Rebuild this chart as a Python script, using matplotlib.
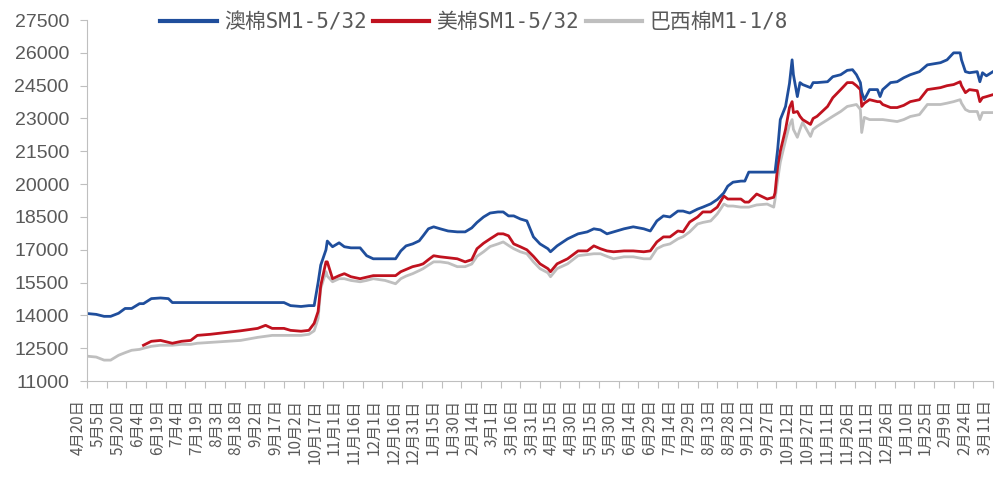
import matplotlib
matplotlib.use("Agg")
import matplotlib.pyplot as plt
import matplotlib.dates as mdates
import numpy as np
import pandas as pd

# 现货价格（元/吨）
dates = [
    "2020-04-20", "2020-04-27", "2020-05-03", "2020-05-08", "2020-05-14", "2020-05-19",
    "2020-05-24", "2020-05-30", "2020-06-02", "2020-06-08", "2020-06-15", "2020-06-21",
    "2020-06-24", "2020-07-01", "2020-07-08", "2020-07-13", "2020-07-23", "2020-08-05",
    "2020-08-15", "2020-08-28", "2020-09-03", "2020-09-08", "2020-09-17", "2020-09-22",
    "2020-09-30", "2020-10-06", "2020-10-10", "2020-10-13", "2020-10-15", "2020-10-19",
    "2020-10-20", "2020-10-24", "2020-10-29", "2020-11-02", "2020-11-07", "2020-11-14",
    "2020-11-19", "2020-11-24", "2020-12-03", "2020-12-11", "2020-12-15", "2020-12-19",
    "2020-12-24", "2020-12-29", "2021-01-01", "2021-01-05", "2021-01-09", "2021-01-14",
    "2021-01-20", "2021-01-27", "2021-02-02", "2021-02-07", "2021-02-11", "2021-02-16",
    "2021-02-21", "2021-02-27", "2021-03-03", "2021-03-07", "2021-03-11", "2021-03-16",
    "2021-03-21", "2021-03-26", "2021-03-31", "2021-04-06", "2021-04-08", "2021-04-13",
    "2021-04-21", "2021-04-29", "2021-05-06", "2021-05-11", "2021-05-16", "2021-05-21",
    "2021-05-26", "2021-06-03", "2021-06-10", "2021-06-18", "2021-06-23", "2021-06-28",
    "2021-07-03", "2021-07-08", "2021-07-14", "2021-07-18", "2021-07-23", "2021-07-29",
    "2021-08-02", "2021-08-08", "2021-08-13", "2021-08-18", "2021-08-21", "2021-08-25",
    "2021-08-31", "2021-09-03", "2021-09-06", "2021-09-12", "2021-09-20", "2021-09-25",
    "2021-09-26", "2021-09-28", "2021-09-30", "2021-10-04", "2021-10-07", "2021-10-09",
    "2021-10-10", "2021-10-13", "2021-10-15", "2021-10-17", "2021-10-23", "2021-10-25",
    "2021-10-28", "2021-11-05", "2021-11-09", "2021-11-15", "2021-11-20", "2021-11-24",
    "2021-11-27", "2021-11-30", "2021-12-01", "2021-12-03", "2021-12-07", "2021-12-13",
    "2021-12-15", "2021-12-17", "2021-12-23", "2021-12-28", "2022-01-02", "2022-01-07",
    "2022-01-14", "2022-01-20", "2022-01-30", "2022-02-04", "2022-02-09", "2022-02-14",
    "2022-02-15", "2022-02-18", "2022-02-21", "2022-02-27", "2022-03-01", "2022-03-03",
    "2022-03-06", "2022-03-11",
]

aus_sm = [
    14090, 14050, 13960, 13960, 14100, 14320, 14320, 14540, 14540, 14770, 14800, 14770,
    14590, 14590, 14590, 14590, 14590, 14590, 14590, 14590, 14590, 14590, 14590, 14450,
    14410, 14450, 14450, 15500, 16300, 17000, 17400, 17140, 17320, 17140, 17090, 17090,
    16730, 16590, 16590, 16590, 16950, 17180, 17270, 17410, 17640, 17960, 18050, 17960,
    17860, 17820, 17820, 18000, 18250, 18500, 18680, 18730, 18730, 18550, 18550, 18410,
    18320, 17590, 17270, 17050, 16910, 17180, 17500, 17730, 17820, 17960, 17910, 17730,
    17820, 17960, 18050, 17960, 17860, 18320, 18550, 18500, 18770, 18770, 18680, 18860,
    18950, 19100, 19300, 19600, 19910, 20090, 20140, 20140, 20550, 20550, 20550, 20550,
    20550, 21590, 22950, 23550, 24600, 25680, 25000, 24000, 24640, 24550, 24410, 24640,
    24640, 24680, 24910, 25000, 25200, 25230, 25000, 24640, 24200, 23860, 24320, 24320,
    24000, 24320, 24640, 24680, 24860, 25000, 25140, 25450, 25550, 25680, 26000, 26000,
    25680, 25140, 25090, 25140, 24680, 25090, 24950, 25140,
]

us_sm = [
    np.nan, np.nan, np.nan, np.nan, np.nan, np.nan, np.nan, np.nan, 12640, 12820, 12860, 12770,
    12730, 12820, 12860, 13090, 13140, 13230, 13300, 13410, 13550, 13410, 13410, 13320,
    13280, 13320, 13640, 14180, 15360, 16450, 16450, 15680, 15820, 15910, 15770, 15680,
    15750, 15820, 15820, 15820, 16000, 16100, 16230, 16300, 16360, 16550, 16730, 16680,
    16640, 16590, 16450, 16550, 17050, 17300, 17500, 17730, 17730, 17640, 17270, 17140,
    17000, 16700, 16360, 16140, 16000, 16360, 16590, 16950, 16950, 17180, 17050, 16950,
    16910, 16950, 16950, 16910, 16950, 17360, 17590, 17590, 17860, 17820, 18270, 18500,
    18730, 18730, 18950, 19460, 19320, 19320, 19320, 19180, 19180, 19550, 19320, 19400,
    19600, 20820, 21500, 22500, 23500, 23770, 23270, 23320, 23100, 22950, 22730, 23000,
    23100, 23550, 23950, 24320, 24640, 24640, 24500, 24320, 23550, 23700, 23860, 23770,
    23770, 23640, 23500, 23500, 23600, 23770, 23860, 24320, 24410, 24500, 24550, 24680,
    24500, 24180, 24320, 24270, 23770, 23950, 24000, 24090,
]

bra_m = [
    12140, 12100, 11960, 11960, 12180, 12300, 12410, 12450, 12500, 12590, 12640, 12640,
    12640, 12680, 12680, 12730, 12770, 12820, 12860, 13000, 13050, 13090, 13090, 13090,
    13090, 13140, 13300, 13860, 15230, 16000, 15800, 15540, 15680, 15680, 15600, 15540,
    15600, 15680, 15600, 15450, 15680, 15800, 15910, 16050, 16140, 16300, 16450, 16450,
    16400, 16230, 16230, 16350, 16700, 16910, 17150, 17270, 17360, 17200, 17050, 16910,
    16820, 16450, 16140, 15950, 15770, 16140, 16360, 16730, 16780, 16820, 16820, 16700,
    16590, 16680, 16680, 16590, 16590, 17050, 17200, 17270, 17500, 17600, 17820, 18180,
    18250, 18320, 18640, 19090, 19000, 19000, 18950, 18950, 18950, 19050, 19090, 18950,
    19300, 20200, 21000, 22000, 22700, 22950, 22500, 22140, 22500, 22820, 22180, 22500,
    22640, 22950, 23100, 23320, 23550, 23600, 23640, 23410, 22360, 23050, 22950, 22950,
    22950, 22950, 22900, 22860, 22950, 23090, 23180, 23640, 23640, 23700, 23770, 23860,
    23700, 23410, 23320, 23320, 22950, 23270, 23270, 23270,
]

series = [
    ("澳棉SM1-5/32", aus_sm, "#1f4e9c"),
    ("美棉SM1-5/32", us_sm, "#c0121f"),
    ("巴西棉M1-1/8", bra_m, "#bfbfbf"),
]

x = pd.to_datetime(dates)

fig = plt.figure(figsize=(10, 4.88), dpi=100)
ax = fig.add_axes([0.087, 0.219, 0.906, 0.74])

# 灰线画在最下层
for label, vals, color in reversed(series):
    ax.plot(x, vals, color=color, lw=2.0, label=label, solid_joinstyle="round")

start = pd.Timestamp("2020-04-20")
end = pd.Timestamp("2022-03-11")
ax.set_xlim(start, end)
ax.set_ylim(11000, 27500)
ax.set_yticks(np.arange(11000, 27501, 1500))

ticks = pd.date_range(start, end, freq="15D")
ax.set_xticks(ticks)
ax.set_xticklabels([f"{d.month}月{d.day}日" for d in ticks], rotation=90,
                   ha="right", va="top",
                   family=["Noto Sans CJK SC", "DejaVu Sans"], fontsize=11,
                   color="#595959")

for lab in ax.get_yticklabels():
    lab.set_family("Liberation Sans")
    lab.set_fontsize(14)
    lab.set_color("#595959")

ax.tick_params(axis="y", length=5, color="#bfbfbf", pad=8)
ax.tick_params(axis="x", length=5, color="#bfbfbf", pad=8)

for side in ("top", "right"):
    ax.spines[side].set_visible(False)
ax.spines["left"].set_color("#bfbfbf")
ax.spines["bottom"].set_color("#bfbfbf")

handles, labels = ax.get_legend_handles_labels()
leg = fig.legend(handles[::-1], labels[::-1], loc="center", ncol=3,
                 bbox_to_anchor=(0.474, 0.955), frameon=False,
                 handlelength=2.7, handletextpad=0.35, columnspacing=0.3,
                 prop={"family": ["DejaVu Sans Mono", "Noto Sans CJK SC"], "size": 15})
for t in leg.get_texts():
    t.set_color("#595959")
for h in leg.get_lines():
    h.set_linewidth(3)

fig.savefig("out.png", dpi=100)
